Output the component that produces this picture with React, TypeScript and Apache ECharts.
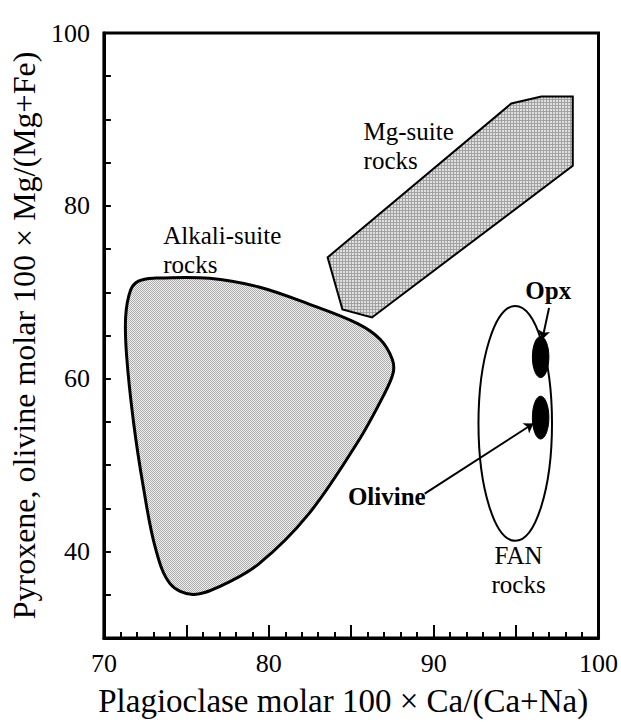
import React, { useEffect, useRef } from 'react';
import * as echarts from 'echarts';

// Axis ranges (plagioclase An vs. mafic Mg#)
const xRange: [number, number] = [70, 100];
const yRange: [number, number] = [30, 100];

// Outline of the alkali-suite field (An, Mg#)
const alkaliSuite: [number, number][] = [
  [73.0, 71.63], [76.41, 71.63], [79.4, 70.61], [82.4, 68.66], [85.39, 66.38],
  [86.77, 64.54], [87.49, 62.26], [87.54, 60.65], [86.95, 58.02], [85.39, 52.65],
  [82.4, 44.3], [79.4, 38.58], [77.01, 35.95], [75.39, 35.04], [74.01, 36.29],
  [73.11, 40.52], [72.4, 47.39], [71.8, 54.94], [71.38, 62.6], [71.32, 67.17],
  [71.62, 70.26], [72.1, 71.29],
];

// Outline of the Mg-suite field
const mgSuite: [number, number][] = [
  [83.57, 74.04], [84.47, 68.01], [86.26, 67.09], [98.44, 84.64],
  [98.44, 92.65], [96.54, 92.65], [94.71, 91.84],
];

// Ferroan anorthosite (FAN) field: centre and semi-axes in data units
const fanCenter: [number, number] = [94.95, 54.82];
const fanRadii: [number, number] = [2.23, 13.58];

// Mineral compositions of the sample
const mineralNames = ['Opx', 'Olivine'];
const mineralCenters: [number, number][] = [[96.49, 62.51], [96.49, 55.5]];
const mineralRadii: [number, number][] = [[0.5, 2.38], [0.5, 2.48]];

// Leader arrows from mineral labels to their compositions
const arrowLines: [number, number][][] = [
  [[97.0, 68.2], [96.59, 64.54]],
  [[89.46, 46.7], [96.05, 54.82]],
];

// Field / mineral annotations anchored in data space
const annotationTexts = ['Alkali-suite\nrocks', 'Mg-suite\nrocks', 'FAN\nrocks', 'Opx', 'Olivine'];
const annotationAnchors: [number, number][] = [
  [73.6, 74.84], [85.75, 86.9], [95.15, 37.9], [96.95, 70.26], [87.16, 46.36],
];

const SERIF = "'Liberation Serif', 'Times New Roman', Times, serif";

function makeTile(kind: 'dots' | 'grid'): HTMLCanvasElement {
  const c = document.createElement('canvas');
  const ctx = c.getContext('2d')!;
  if (kind === 'dots') {
    c.width = 2;
    c.height = 2;
    ctx.fillStyle = '#efefef';
    ctx.fillRect(0, 0, 2, 2);
    ctx.fillStyle = '#acacac';
    ctx.fillRect(0, 0, 1, 1);
    ctx.fillRect(1, 1, 1, 1);
  } else {
    c.width = 3;
    c.height = 3;
    ctx.fillStyle = '#e0e0e0';
    ctx.fillRect(0, 0, 3, 3);
    ctx.fillStyle = '#a2a2a2';
    ctx.fillRect(0, 0, 3, 1);
    ctx.fillRect(0, 0, 1, 3);
  }
  return c;
}

export default function App() {
  const ref = useRef<HTMLDivElement>(null);

  useEffect(() => {
    if (!ref.current) return;
    const chart = echarts.init(ref.current, undefined, { renderer: 'svg' });

    const dotTile = makeTile('dots');
    const gridTile = makeTile('grid');

    const fieldSeries = (pts: [number, number][], tile: HTMLCanvasElement, smooth: number, lw: number) => ({
      type: 'custom',
      coordinateSystem: 'cartesian2d',
      silent: true,
      data: [pts[0]],
      renderItem: (_p: any, api: any) => ({
        type: 'polygon',
        shape: { points: pts.map((p) => api.coord(p)), smooth },
        style: {
          fill: { image: tile, repeat: 'repeat', imageWidth: tile.width, imageHeight: tile.height },
          stroke: '#000',
          lineWidth: lw,
        },
      }),
    });

    const axisFont = { fontFamily: SERIF, fontSize: 26, color: '#000' };
    const tickLine = { color: '#000', width: 2 };

    chart.setOption({
      animation: false,
      backgroundColor: '#fff',
      grid: {
        left: 100,
        top: 33,
        right: 21,
        bottom: 77,
        show: true,
        borderColor: '#000',
        borderWidth: 3,
      },
      xAxis: {
        type: 'value',
        min: xRange[0],
        max: xRange[1],
        interval: 5,
        name: 'Plagioclase molar 100 × Ca/(Ca+Na)',
        nameLocation: 'middle',
        nameGap: 46,
        nameTextStyle: { fontFamily: SERIF, fontSize: 33, color: '#000', padding: [0, 16, 0, 0] },
        axisLine: { show: true, lineStyle: { color: '#000', width: 3 } },
        axisTick: { show: true, inside: true, length: 13, lineStyle: tickLine },
        minorTick: { show: true, splitNumber: 5, length: 6, lineStyle: tickLine },
        splitLine: { show: false },
        minorSplitLine: { show: false },
        axisLabel: {
          ...axisFont,
          margin: 12,
          formatter: (v: number) => (v % 10 === 0 ? String(v) : ''),
        },
      },
      yAxis: {
        type: 'value',
        min: yRange[0],
        max: yRange[1],
        interval: 5,
        name: 'Pyroxene, olivine molar 100 × Mg/(Mg+Fe)',
        nameLocation: 'middle',
        nameGap: 55,
        nameTextStyle: { fontFamily: SERIF, fontSize: 32, color: '#000' },
        axisLine: { show: true, lineStyle: { color: '#000', width: 3 } },
        axisTick: { show: true, inside: true, length: 7, lineStyle: tickLine },
        splitLine: { show: false },
        axisLabel: {
          ...axisFont,
          margin: 14,
          formatter: (v: number) => (v % 20 === 0 ? String(v) : ''),
        },
      },
      series: [
        fieldSeries(alkaliSuite, dotTile, 0.35, 3),
        fieldSeries(mgSuite, gridTile, 0, 2),
        {
          type: 'custom',
          coordinateSystem: 'cartesian2d',
          silent: true,
          data: [fanCenter],
          renderItem: (_p: any, api: any) => {
            const c = api.coord(fanCenter);
            const s = api.size(fanRadii);
            return {
              type: 'ellipse',
              shape: { cx: c[0], cy: c[1], rx: s[0], ry: s[1] },
              style: { fill: 'none', stroke: '#000', lineWidth: 2 },
            };
          },
        },
        {
          type: 'custom',
          coordinateSystem: 'cartesian2d',
          silent: true,
          data: mineralCenters,
          renderItem: (p: any, api: any) => {
            const i = p.dataIndex;
            const c = api.coord(mineralCenters[i]);
            const s = api.size(mineralRadii[i]);
            return {
              type: 'ellipse',
              shape: { cx: c[0], cy: c[1], rx: s[0], ry: s[1] },
              style: { fill: '#000', stroke: '#000', lineWidth: 1 },
            };
          },
        },
        {
          type: 'lines',
          coordinateSystem: 'cartesian2d',
          silent: true,
          symbol: ['none', 'arrow'],
          symbolSize: 9,
          lineStyle: { color: '#000', width: 2, opacity: 1, curveness: 0 },
          data: arrowLines.map((coords) => ({ coords })),
        },
        {
          type: 'custom',
          coordinateSystem: 'cartesian2d',
          silent: true,
          data: annotationAnchors,
          renderItem: (p: any, api: any) => {
            const i = p.dataIndex;
            const text = annotationTexts[i];
            const c = api.coord(annotationAnchors[i]);
            const bold = mineralNames.includes(text);
            const align = text.startsWith('FAN') || bold ? 'center' : 'left';
            return {
              type: 'text',
              x: c[0],
              y: c[1],
              style: {
                text,
                fontFamily: SERIF,
                fontSize: 25,
                fontWeight: bold ? 'bold' : 'normal',
                fill: '#000',
                align,
                verticalAlign: 'middle',
                lineHeight: 29,
              },
            };
          },
        },
      ],
    });

    return () => chart.dispose();
  }, []);

  return (
    <div
      ref={ref}
      style={{ position: 'absolute', left: 0, top: 0, width: 621, height: 722 }}
    />
  );
}
